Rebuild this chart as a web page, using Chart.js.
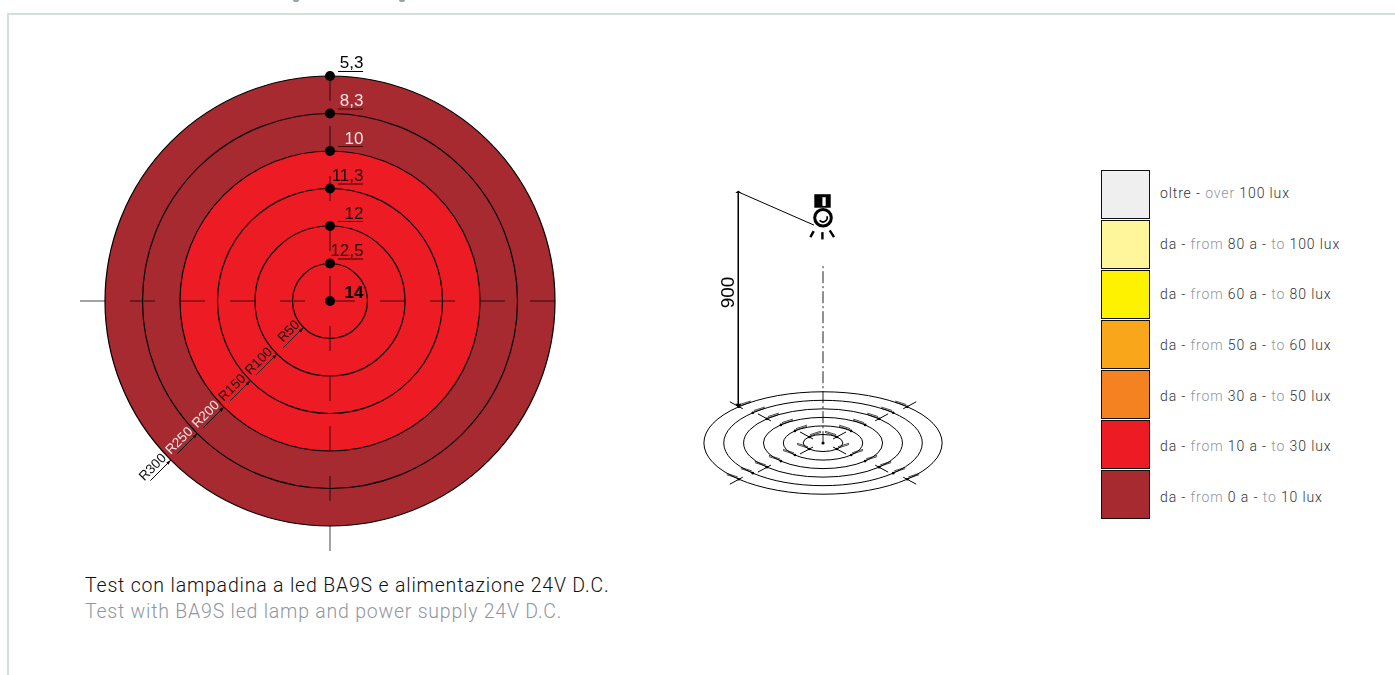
<!DOCTYPE html>
<html lang="it">
<head>
<meta charset="utf-8">
<title>Test BA9S</title>
<script src="https://cdn.jsdelivr.net/npm/chart.js@4"></script>
<style>
html,body{margin:0;padding:0;background:#fff;width:1395px;height:675px;overflow:hidden}
#frame{position:absolute;left:7px;top:13px;width:1388px;height:662px;border-left:2px solid #d2dfda;border-top:2px solid #d2dfda;box-sizing:border-box}
canvas{position:absolute}
.txt{position:absolute;white-space:nowrap;font-family:Roboto,sans-serif;font-weight:300}
.g{color:#8f96a0}
.swatch{position:absolute;left:1101px;width:49px;height:49px;box-sizing:border-box;border:1px solid #111}
.crumb{position:absolute;top:0;width:6px;height:2px;background:#9aa1aa;border-radius:0 0 3px 3px}
</style>
</head>
<body>
<div id="frame"></div>
<div class="crumb" style="left:293px"></div>
<div class="crumb" style="left:399px"></div>
<canvas id="rings" width="520" height="530" style="left:60px;top:40px"></canvas>
<canvas id="side" width="270" height="340" style="left:690px;top:170px"></canvas>
<div id="legend"></div>
<div class="txt" style="left:85px;top:575px;font-size:19.5px;letter-spacing:.81px;color:#111;line-height:22px">Test con lampadina a led BA9S e alimentazione 24V D.C.</div>
<div class="txt g" style="left:85px;top:601px;font-size:19.5px;letter-spacing:.78px;line-height:22px">Test with BA9S led lamp and power supply 24V D.C.</div>
<script>
// ---- data ----
const radii = [300, 250, 200, 150, 100, 50];
const luxAtRing = [5.3, 8.3, 10, 11.3, 12, 12.5];
const luxLabels = ['5,3', '8,3', '10', '11,3', '12', '12,5'];
const luxCentre = 14;
const luxCentreLabel = '14';
const radiusLabels = ['R300', 'R250', 'R200', 'R150', 'R100', 'R50'];
const mountHeight = 900;
const mountLabel = '900';
const lampHeight = 792;
const bandFrom = [100, 80, 60, 50, 30, 10, 0];
const bandTo = [null, 100, 80, 60, 50, 30, 10];
const bandColours = ['#efefef', '#fff69c', '#fff200', '#faa61a', '#f58220', '#ed1c24', '#a62a30'];
const crossFrom = -333.3;
const crossTo = 300;
const perspectiveTicks = [300, 200, 50];

function zoneColour(v) {
  for (let i = 0; i < bandFrom.length; i++) if (v >= bandFrom[i]) return bandColours[i];
  return bandColours[bandColours.length - 1];
}
const hidden = { display: false };
const base = { responsive: false, animation: false, devicePixelRatio: 1, layout: { padding: 0, autoPadding: false },
  events: [], plugins: { legend: hidden, title: hidden, tooltip: { enabled: false } } };
Chart.defaults.font.family = '"Liberation Sans", Arial, sans-serif';

// ---- plan view ----
function pxR(chart, r) { return chart.scales.x.getPixelForValue(r) - chart.scales.x.getPixelForValue(0); }
const ringLabels = {
  id: 'ringLabels',
  afterDatasetsDraw(chart) {
    const { ctx, scales: { x, y } } = chart;
    const cx = x.getPixelForValue(0), cy = y.getPixelForValue(0);
    ctx.save();
    // lux values, right aligned, underlined
    radii.forEach((r, i) => {
      const py = y.getPixelForValue(r);
      const col = i === 0 ? '#000' : (i < 3 ? '#f3e6e6' : '#200');
      ctx.fillStyle = col; ctx.font = '17px "Liberation Sans"';
      ctx.textAlign = 'right'; ctx.textBaseline = 'alphabetic';
      ctx.fillText(luxLabels[i], cx + 33.5, py - (i === 0 ? 8 : 7.3));
      ctx.strokeStyle = i === 0 ? '#000' : (i < 3 ? 'rgba(40,0,0,.75)' : '#300');
      ctx.lineWidth = 1;
      ctx.beginPath(); ctx.moveTo(cx + 8, py - 4.5); ctx.lineTo(cx + 33, py - 4.5); ctx.stroke();
    });
    ctx.fillStyle = '#000'; ctx.font = 'bold 17px "Liberation Sans"';
    ctx.textAlign = 'right';
    ctx.fillText(luxCentreLabel, cx + 33.5, cy - 2.7);
    // radius leaders at 225 degrees
    const d = Math.SQRT1_2;
    radii.forEach((r, i) => {
      const rp = pxR(chart, r);
      const tx = cx - rp * d, ty = cy + rp * d;
      const lead = 29 * d;
      ctx.strokeStyle = '#000'; ctx.fillStyle = '#000'; ctx.lineWidth = 1;
      ctx.beginPath(); ctx.moveTo(tx - lead, ty + lead); ctx.lineTo(tx, ty); ctx.stroke();
      ctx.save(); ctx.translate(tx, ty); ctx.rotate(-Math.PI / 4);
      ctx.beginPath(); ctx.moveTo(0, 0); ctx.lineTo(-5, -1.6); ctx.lineTo(-5, 1.6); ctx.closePath(); ctx.fill();
      ctx.font = '13.5px "Liberation Sans"'; ctx.textAlign = 'center'; ctx.textBaseline = 'alphabetic';
      ctx.fillStyle = (i === 1 || i === 2) ? '#f3e6e6' : '#111';
      ctx.fillText(radiusLabels[i], i === 5 ? -13 : -18, -3.7);
      ctx.restore();
    });
    ctx.restore();
  }
};
new Chart(document.getElementById('rings'), {
  type: 'scatter',
  data: { datasets: [
    { label: 'Lux', data: radii.map(r => ({ x: 0, y: r })).concat([{ x: 0, y: 0 }]),
      pointRadius: 5, pointBackgroundColor: '#000', pointBorderWidth: 0, clip: false },
    { label: 'Asse H', data: [{ x: crossFrom, y: 0 }, { x: crossTo, y: 0 }], showLine: true, pointRadius: 0,
      borderColor: 'rgba(0,0,0,.72)', borderWidth: 1, borderDash: [25, 25], clip: false },
    { label: 'Asse V', data: [{ x: 0, y: crossTo }, { x: 0, y: crossFrom }], showLine: true, pointRadius: 0,
      borderColor: 'rgba(0,0,0,.72)', borderWidth: 1, borderDash: [25, 25], clip: false },
    { label: 'Zone', data: radii.map(() => ({ x: 0, y: 0 })),
      pointRadius: c => pxR(c.chart, radii[c.dataIndex]),
      pointBackgroundColor: c => zoneColour(luxAtRing[c.dataIndex]),
      pointBorderColor: '#000', pointBorderWidth: 1.2, clip: false }
  ] },
  options: { ...base, scales: {
    x: { type: 'linear', display: false, min: -360, max: 333.333 },
    y: { type: 'linear', display: false, min: -358.667, max: 348 } } },
  plugins: [ringLabels]
});

// ---- side (perspective) view ----
const sideDraw = {
  id: 'sideDraw',
  afterDatasetsDraw(chart) {
    const { ctx, scales: { x, y, yH } } = chart;
    const cx = x.getPixelForValue(0), cy = y.getPixelForValue(0);
    const d = Math.SQRT1_2;
    ctx.save();
    ctx.strokeStyle = '#000'; ctx.fillStyle = '#000';
    radii.forEach(r => {
      const rx = x.getPixelForValue(r) - cx, ry = cy - y.getPixelForValue(r);
      ctx.lineWidth = 1;
      ctx.beginPath(); ctx.ellipse(cx, cy, rx, ry, 0, 0, Math.PI * 2); ctx.stroke();
      [[-1, -1], [1, -1], [-1, 1], [1, 1]].forEach(([sx, sy]) => {
        const px = cx + sx * rx * d, py = cy + sy * ry * d;
        ctx.beginPath(); ctx.arc(px, py, 1.3, 0, Math.PI * 2); ctx.fill();
        // squeezed leader lettering
        const hx = (sx === sy) ? 1 : -1;
        ctx.lineWidth = .7;
        [0, 1.6].forEach(o => {
          ctx.beginPath(); ctx.moveTo(px + hx * 1, py - 1 - o * .8);
          ctx.lineTo(px + hx * 12, py - 4.5 - o * .8); ctx.stroke();
        });
        if (perspectiveTicks.includes(r)) {
          ctx.lineWidth = 1;
          ctx.beginPath(); ctx.moveTo(px - sx * 4, py - sy * 2); ctx.lineTo(px + sx * 9, py + sy * 5); ctx.stroke();
        }
      });
    });
    // dimension label
    const dimX = x.getPixelForValue(-213.4);
    ctx.save(); ctx.translate(dimX - 4, yH.getPixelForValue(mountHeight * .532));
    ctx.rotate(-Math.PI / 2); ctx.font = '19px "Liberation Sans"'; ctx.textAlign = 'center'; ctx.textBaseline = 'alphabetic';
    ctx.fillStyle = '#000'; ctx.fillText(mountLabel, 0, 0); ctx.restore();
    // dimension arrows
    const t = yH.getPixelForValue(mountHeight), b = yH.getPixelForValue(0);
    ctx.beginPath(); ctx.moveTo(dimX, t - 1.5); ctx.lineTo(dimX + 3, t + 1); ctx.lineTo(dimX - 3, t + 1); ctx.closePath(); ctx.fill();
    ctx.beginPath(); ctx.moveTo(dimX, b + 1); ctx.lineTo(dimX + 3, b - 3); ctx.lineTo(dimX - 3, b - 3); ctx.closePath(); ctx.fill();
    // lamp symbol
    const lx = cx, ly = yH.getPixelForValue(lampHeight);
    ctx.fillRect(lx - 8.7, ly - 23.5, 16.4, 13.5);
    ctx.fillStyle = '#fff'; ctx.fillRect(lx - .6, ly - 20.5, 3.3, 8.7);
    ctx.fillStyle = '#fff'; ctx.strokeStyle = '#000'; ctx.lineWidth = 3;
    ctx.beginPath(); ctx.arc(lx, ly, 8.3, 0, Math.PI * 2); ctx.fill(); ctx.stroke();
    ctx.lineWidth = 1.8;
    ctx.beginPath(); ctx.arc(lx, ly, 4.2, -.35, 2.5); ctx.stroke();
    ctx.lineWidth = 2.4;
    [[-9.3, 13.4, -12.6, 19.4], [-.6, 14.4, -.6, 21.7], [6.7, 12.7, 11, 19.4]].forEach(s => {
      ctx.beginPath(); ctx.moveTo(lx + s[0], ly + s[1]); ctx.lineTo(lx + s[2], ly + s[3]); ctx.stroke();
    });
    ctx.restore();
  }
};
new Chart(document.getElementById('side'), {
  type: 'scatter',
  data: { datasets: [
    { label: 'Quota', data: [{ x: -213.4, y: mountHeight }, { x: -213.4, y: 0 }], yAxisID: 'yH', showLine: true,
      pointRadius: 0, borderColor: '#000', borderWidth: 1, clip: false },
    { label: 'Richiamo', data: [{ x: -213.4, y: mountHeight }, { x: -22.7, y: 761 }], yAxisID: 'yH', showLine: true,
      pointRadius: 0, borderColor: '#000', borderWidth: 1, clip: false },
    { label: 'Asse lampada', data: [{ x: 0, y: -153 }, { x: 0, y: 598 }], yAxisID: 'yH', showLine: true,
      pointRadius: 0, borderColor: '#222', borderWidth: 1, borderDash: [12, 3, 2, 3], clip: false },
    { label: 'Centro', data: [{ x: 0, y: 0 }], yAxisID: 'y', pointRadius: 1.6, pointBackgroundColor: '#000', pointBorderWidth: 0 }
  ] },
  options: { ...base, scales: {
    x: { type: 'linear', display: false, min: -335, max: 345 },
    y: { type: 'linear', display: false, min: -392.5, max: 1599 },
    yH: { type: 'linear', display: false, min: -433, max: 992 } } },
  plugins: [sideDraw]
});

// ---- colour key ----
const legend = document.getElementById('legend');
bandFrom.forEach((f, i) => {
  const box = document.createElement('div');
  box.className = 'swatch'; box.style.top = (170 + i * 50) + 'px'; box.style.background = bandColours[i];
  legend.appendChild(box);
  const t = document.createElement('div');
  t.className = 'txt';
  t.style.cssText = 'left:1160px;top:' + (182 + i * 50.67) + 'px;font-size:14px;line-height:22px;letter-spacing:.88px;color:#333';
  t.innerHTML = bandTo[i] === null
    ? 'oltre - <span class="g">over</span> ' + f + ' lux'
    : 'da - <span class="g">from</span> ' + f + ' a - <span class="g">to</span> ' + bandTo[i] + ' lux';
  legend.appendChild(t);
});
</script>
</body>
</html>
